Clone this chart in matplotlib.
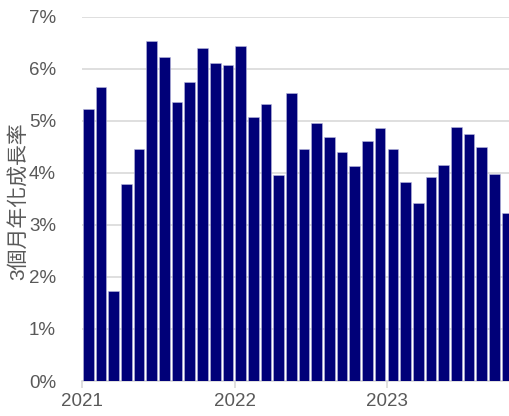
import matplotlib.pyplot as plt
from matplotlib.ticker import FuncFormatter

# 3個月年化成長率, 2021-01 .. 2023-10 (monthly)
values = [5.23, 5.64, 1.73, 3.79, 4.45, 6.54, 6.22, 5.36, 5.75, 6.40, 6.11, 6.07,
          6.44, 5.07, 5.32, 3.96, 5.54, 4.45, 4.95, 4.68, 4.40, 4.13, 4.62, 4.87,
          4.46, 3.82, 3.42, 3.92, 4.16, 4.89, 4.75, 4.49, 3.97, 3.23]
year_labels = ["2021", "2022", "2023"]
y_ticks = [0, 1, 2, 3, 4, 5, 6, 7]

plt.rcParams['font.family'] = ['Liberation Sans', 'Noto Sans CJK TC', 'DejaVu Sans']

fig = plt.figure(figsize=(5.1, 4.16), dpi=100)
# axes box in pixels: left 82, bottom 381, top 17
ax = fig.add_axes([82.3 / 510, 35 / 416, (510 - 82.3) / 510, (381 - 16.7) / 416])

xs = [i + 0.05 for i in range(len(values))]
ax.bar(xs, values, width=0.84, align='edge', color='#000078',
       edgecolor='#b8b8dc', linewidth=0.4, zorder=3)

ax.set_ylim(0, 7)
ax.set_xlim(0, 33.7)
ax.set_yticks(y_ticks)
ax.yaxis.set_major_formatter(FuncFormatter(lambda v, p: f"{v:.0f}%"))
ax.set_xticks([0, 12, 24])
ax.set_xticklabels(year_labels)

ax.grid(axis='y', color='#d9d9d9', linewidth=1.2, zorder=0)
for s in ['top', 'right', 'left']:
    ax.spines[s].set_visible(False)
ax.spines['bottom'].set_color('#d9d9d9')
ax.spines['bottom'].set_linewidth(1.2)

ax.tick_params(axis='y', length=0, pad=19, labelsize=13.5, labelcolor='#595959')
ax.tick_params(axis='x', length=5, width=1.2, color='#d9d9d9', pad=4,
               labelsize=13.5, labelcolor='#595959')

ax.set_ylabel("3個月年化成長率", fontsize=15, color='#595959')
ax.yaxis.set_label_coords(-0.128, 0.495)

plt.savefig("out.png", dpi=100)
